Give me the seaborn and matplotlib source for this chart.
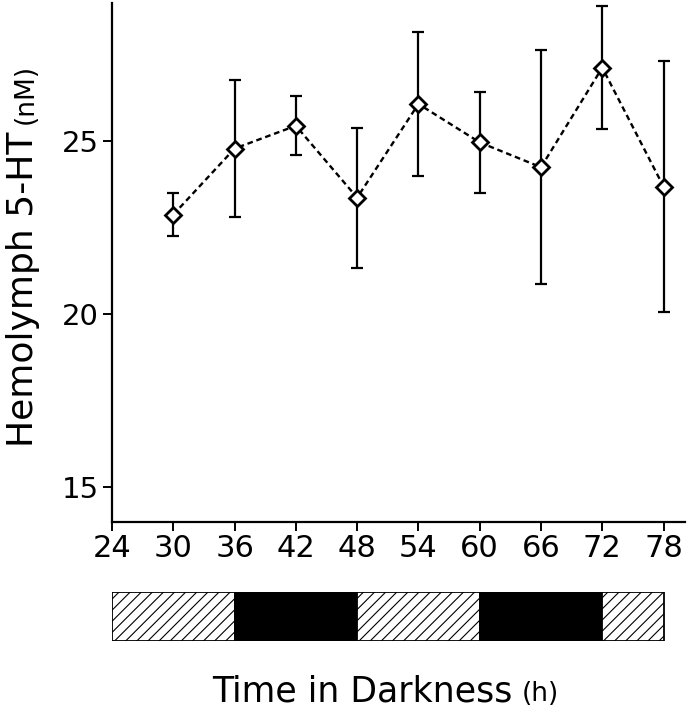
import matplotlib
matplotlib.use("Agg")
import matplotlib.pyplot as plt
import seaborn as sns
import pandas as pd

# ================================================================
hours = [30, 36, 42, 48, 54, 60, 66, 72, 78]
serotonin = [22.88, 24.79, 25.45, 23.37, 26.08, 24.97, 24.25, 27.13, 23.69]
sem = [0.62, 1.98, 0.86, 2.02, 2.09, 1.47, 3.39, 1.77, 3.63]

phase_start = [24, 36, 48, 60, 72]
phase_end = [36, 48, 60, 72, 78]
phase_dark = [False, True, False, True, False]

x_ticks = [24, 30, 36, 42, 48, 54, 60, 66, 72, 78]
y_ticks = [15, 20, 25]
# ================================================================

df = pd.DataFrame({"hours": hours, "serotonin": serotonin, "sem": sem})

sns.set_style("ticks")
plt.rcParams["font.family"] = ["DejaVu Sans"]
plt.rcParams["text.color"] = "black"
plt.rcParams["hatch.linewidth"] = 0.8

W, H = 689, 719
fig = plt.figure(figsize=(W / 100, H / 100), dpi=100)

# Main panel.
ax = fig.add_axes([112 / W, 1 - 521.7 / H, (685 - 112) / W, (521.7 - 3) / H])
ax.errorbar(df.hours, df.serotonin, yerr=df["sem"], fmt="none", ecolor="black",
            elinewidth=1.6, capsize=4, capthick=1.6, zorder=2)
sns.lineplot(ax=ax, data=df, x="hours", y="serotonin", color="black", linewidth=1.7,
             linestyle=(0, (2.4, 1.6)), marker="D", markersize=8, markerfacecolor="white",
             markeredgecolor="black", markeredgewidth=2.0, zorder=3)
ax.set_xlim(24, 80.1)
ax.set_ylim(14, 29)
ax.set_xticks(x_ticks)
ax.set_yticks(y_ticks)
ax.set_xlabel("")
ax.set_ylabel("")
sns.despine(ax=ax)
for s in ["left", "bottom"]:
    ax.spines[s].set_linewidth(1.6)
    ax.spines[s].set_color("black")
ax.tick_params(axis="x", length=6.5, width=1.4, labelsize=22, pad=2, colors="black")
ax.tick_params(axis="y", length=6.5, width=1.4, labelsize=21, pad=3, colors="black")

# Light/dark bar.
bx = fig.add_axes([112 / W, 1 - 641 / H, (685 - 112) / W, (641 - 591.7) / H])
for start, end, dark in zip(phase_start, phase_end, phase_dark):
    bx.barh(0, end - start, left=start, height=1, color="black" if dark else "white",
            edgecolor="black", linewidth=1.3, hatch=None if dark else "///", align="center")
bx.set_xlim(ax.get_xlim())
bx.set_ylim(-0.5, 0.5)
bx.axis("off")

# Labels with smaller unit part.
fig.canvas.draw()
r = fig.canvas.get_renderer()
t1 = fig.text(212 / W, 1 - 701 / H, "Time in Darkness", fontsize=25, va="baseline", ha="left",
              color="black")
e1 = t1.get_window_extent(r)
fig.text((e1.x1 + 9) / W, 1 - 701 / H, "(h)", fontsize=19, va="baseline", ha="left",
         color="black")

t2 = fig.text(33 / W, 1 - 447 / H, "Hemolymph 5-HT", fontsize=26, rotation=90,
              rotation_mode="anchor", va="baseline", ha="left", color="black")
e2 = t2.get_window_extent(r)
fig.text(33 / W, (e2.y1 + 8) / H, "(nM)", fontsize=19, rotation=90,
         rotation_mode="anchor", va="baseline", ha="left", color="black")

plt.savefig("out.png", dpi=100)
